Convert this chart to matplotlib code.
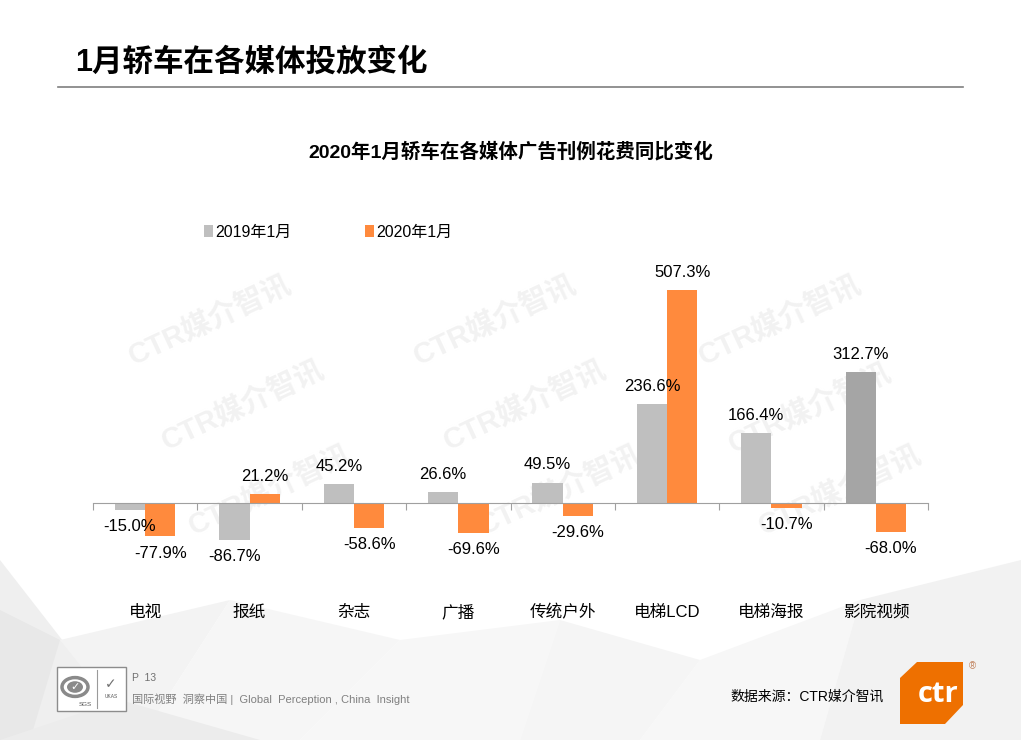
import matplotlib.pyplot as plt
import matplotlib.patches as mpatches
import numpy as np

plt.rcParams['font.family'] = ['Liberation Sans', 'Noto Sans CJK SC', 'DejaVu Sans']

# data
categories = ['电视', '报纸', '杂志', '广播', '传统户外', '电梯LCD', '电梯海报', '影院视频']
series_names = ['2019年1月', '2020年1月']
v2019 = [-15.0, -86.7, 45.2, 26.6, 49.5, 236.6, 166.4, 312.7]
v2020 = [-77.9, 21.2, -58.6, -69.6, -29.6, 507.3, -10.7, -68.0]

W, H = 1021, 740
fig = plt.figure(figsize=(W / 100, H / 100), dpi=100)
fig.patch.set_facecolor('white')


def fx(px):
    return px / W


def fy(py):
    return 1 - py / H


# faint low-poly background at the bottom
polys = [
    ([(0, 560), (140, 740), (0, 740)], '#efefef'),
    ([(0, 610), (60, 640), (30, 740), (0, 740)], '#e8e8e8'),
    ([(60, 640), (230, 600), (140, 740)], '#f3f3f3'),
    ([(230, 600), (400, 640), (300, 740), (140, 740)], '#f6f6f6'),
    ([(400, 640), (560, 620), (520, 740), (300, 740)], '#f7f7f7'),
    ([(560, 620), (700, 660), (640, 740), (520, 740)], '#f5f5f5'),
    ([(700, 660), (860, 600), (820, 740), (640, 740)], '#f7f7f7'),
    ([(860, 600), (1021, 560), (1021, 740), (820, 740)], '#f2f2f2'),
    ([(0, 740), (120, 700), (260, 740)], '#ececec'),
]
for pts, c in polys:
    fig.patches.append(mpatches.Polygon([(fx(x), fy(y)) for x, y in pts],
                                        closed=True, transform=fig.transFigure,
                                        facecolor=c, edgecolor='none', zorder=-3))

# watermarks
for cx, cy in [(210, 320), (495, 320), (780, 320),
               (243, 405), (525, 405), (810, 408),
               (270, 490), (560, 490), (840, 490)]:
    fig.text(fx(cx), fy(cy), 'CTR媒介智讯', rotation=25, fontsize=21,
             fontweight='bold', color='#f2f2f2', ha='center', va='center',
             zorder=-2)

# header
fig.text(fx(75), fy(63), '1月轿车在各媒体投放变化', fontsize=22, fontweight='bold',
         ha='left', va='center')
fig.add_artist(plt.Line2D([fx(58), fx(963)], [fy(87), fy(87)], color='#7f7f7f', lw=1.2))
fig.text(0.5, fy(152), '2020年1月轿车在各媒体广告刊例花费同比变化', fontsize=14,
         fontweight='bold', ha='center', va='center')

# chart area: baseline at y=503 px, 0.42 px per percent
ax = fig.add_axes([fx(93), fy(560), fx(928) - fx(93), (560 - 262) / H])
ax.set_facecolor('none')
ax.set_xlim(-0.5, 7.5)
ax.set_ylim(-135, 575)

x = np.arange(len(categories))
w = 0.29
c2019 = ['#bfbfbf'] * 7 + ['#a5a5a5']
b1 = ax.bar(x - w / 2, v2019, w, color=c2019, label=series_names[0], zorder=2)
b2 = ax.bar(x + w / 2, v2020, w, color='#ff8a3d', label=series_names[1], zorder=2)

for bars, vals in [(b1, v2019), (b2, v2020)]:
    for r, v in zip(bars, vals):
        off = 18 if v >= 0 else -17
        ax.annotate(f'{v:.1f}%', (r.get_x() + r.get_width() / 2, v),
                    xytext=(0, off), textcoords='offset pixels',
                    ha='center', va='center', fontsize=12)

for s in ['top', 'right', 'left']:
    ax.spines[s].set_visible(False)
ax.spines['bottom'].set_position(('data', 0))
ax.spines['bottom'].set_color('#a0a0a0')
ax.set_xticks(np.arange(-0.5, 8, 1))
ax.set_xticklabels([])
ax.tick_params(axis='x', direction='out', length=5, color='#a0a0a0')
ax.set_yticks([])

for i, c in enumerate(categories):
    ax.text(i, -(612 - 503) / 0.42, c, ha='center', va='center', fontsize=12,
            clip_on=False)

ax.legend(ncol=2, loc='center left', bbox_to_anchor=(fx(190), fy(232)),
          bbox_transform=fig.transFigure, frameon=False, fontsize=11.5,
          handlelength=0.55, handleheight=0.7, handletextpad=0.15,
          columnspacing=4.6)

# footer
fig.text(fx(132), fy(678), 'P  13', fontsize=7.5, color='#707070', va='center')
fig.text(fx(132), fy(699), '国际视野  洞察中国 |  Global  Perception , China  Insight',
         fontsize=8, color='#808080', va='center')
fig.text(fx(884), fy(697), '数据来源：CTR媒介智讯', fontsize=10, ha='right', va='center')

# certification box
fig.patches.append(mpatches.Rectangle((fx(57), fy(711)), fx(126) - fx(57), (711 - 667) / H,
                                      transform=fig.transFigure, facecolor='white',
                                      edgecolor='#8c8c8c', lw=1, zorder=1))
fig.add_artist(plt.Line2D([fx(97), fx(97)], [fy(670), fy(708)], color='#9a9a9a', lw=0.8))
fig.patches.append(mpatches.Circle((fx(75), fy(687)), 13 / W, transform=fig.transFigure,
                                   facecolor='none', edgecolor='#8a8a8a', lw=2.5, zorder=2))
fig.patches.append(mpatches.Circle((fx(75), fy(687)), 8 / W, transform=fig.transFigure,
                                   facecolor='#8a8a8a', edgecolor='none', zorder=2))
fig.text(fx(75), fy(687), '✓', fontsize=8, color='white', ha='center', va='center',
         fontweight='bold', family='DejaVu Sans')
fig.text(fx(85), fy(705), 'SGS', fontsize=4.5, color='#555555', ha='center', va='center')
fig.text(fx(111), fy(684), '✓', fontsize=10, color='#707070', ha='center', va='center',
         family='DejaVu Sans')
fig.text(fx(111), fy(697), 'UKAS', fontsize=3.5, color='#555555', ha='center', va='center')

# ctr logo
logo = [(917, 662), (963, 662), (963, 705), (945, 724), (900, 724), (900, 678)]
fig.patches.append(mpatches.Polygon([(fx(a), fy(b)) for a, b in logo], closed=True,
                                    transform=fig.transFigure, facecolor='#ee7000',
                                    edgecolor='none', zorder=1))
fig.text(fx(938), fy(695), 'ctr', fontsize=21, fontweight='bold', color='white',
         ha='center', va='center', family='Open Sans')
fig.text(fx(972), fy(666), '®', fontsize=7, color='#c0805a', ha='center', va='center')

fig.savefig('out.png', dpi=100, facecolor='white')
